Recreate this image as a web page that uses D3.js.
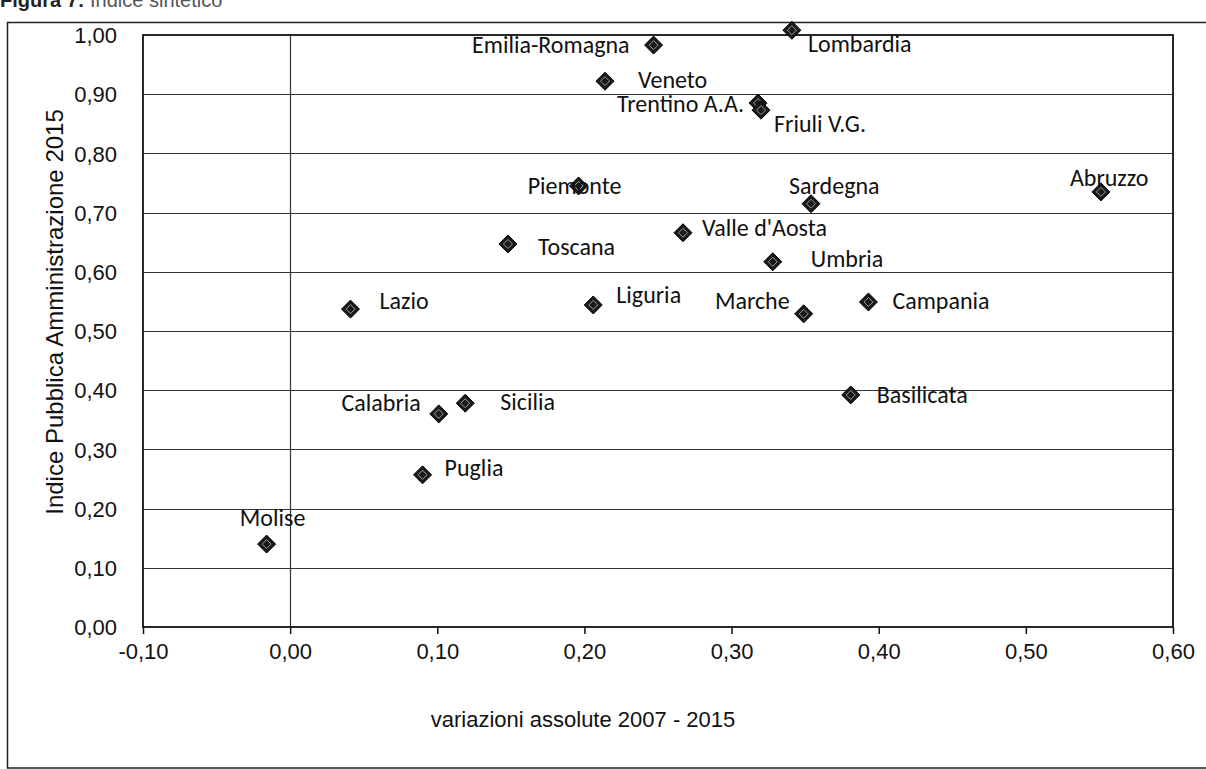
<!DOCTYPE html>
<html>
<head>
<meta charset="utf-8">
<script src="https://cdn.jsdelivr.net/npm/d3@7"></script>
<style>
  body { margin: 0; background: #fff; }
  svg { display: block; }
</style>
</head>
<body>
<svg width="1206" height="769"></svg>
<script>
// regioni, variazione assoluta 2007-2015 (x) e indice PA 2015 (y)
regions = ['Lombardia', 'Emilia-Romagna', 'Veneto', 'Trentino A.A.', 'Friuli V.G.', 'Piemonte', 'Sardegna',
           'Abruzzo', "Valle d'Aosta", 'Toscana', 'Umbria', 'Lazio', 'Liguria', 'Marche', 'Campania',
           'Basilicata', 'Sicilia', 'Calabria', 'Puglia', 'Molise']
variazione = [0.341, 0.247, 0.214, 0.318, 0.320, 0.196, 0.354, 0.551, 0.267, 0.148, 0.328, 0.041, 0.206,
              0.349, 0.393, 0.381, 0.119, 0.101, 0.090, -0.016]
indice = [1.008, 0.983, 0.922, 0.885, 0.873, 0.745, 0.715, 0.735, 0.666, 0.647, 0.617, 0.537, 0.544,
          0.529, 0.549, 0.392, 0.378, 0.360, 0.257, 0.140]

xTicks = [-0.1, 0, 0.1, 0.2, 0.3, 0.4, 0.5, 0.6]
yTicks = [0, 0.1, 0.2, 0.3, 0.4, 0.5, 0.6, 0.7, 0.8, 0.9, 1.0]

titleBold = 'Figura 7:'
titleRest = ' Indice sintetico'
xTitle = 'variazioni assolute 2007 - 2015'
yTitle = 'Indice Pubblica Amministrazione 2015'

// where each label sits relative to its marker: dx, dy (baseline), anchor
labelPos = [[16, 22, 'start'], [-24, 8, 'end'], [33, 7, 'start'], [-14, 9, 'end'], [13, 22, 'start'],
            [-4, 8, 'middle'], [-22, -10, 'start'], [-31, -6, 'start'], [19, 3, 'start'], [30, 11, 'start'],
            [38, 5, 'start'], [29, 0, 'start'], [23, -2, 'start'], [-14, -5, 'end'], [24, 7, 'start'],
            [26, 8, 'start'], [35, 7, 'start'], [-18, -3, 'end'], [22, 1, 'start'], [6, -18, 'middle']]

data = regions.map((r, i) => ({name: r, x: variazione[i], y: indice[i], pos: labelPos[i]}))

let svg = d3.select('svg')
let axisFont = "'Liberation Sans', Arial, sans-serif"
let labelFont = "Carlito, Calibri, Lato, sans-serif"

let it = d3.formatLocale({decimal: ',', thousands: '.', grouping: [3], currency: ['', '€'], minus: '-'})
let fmt = it.format('.2f')

let x = d3.scaleLinear().domain([-0.1, 0.6]).range([143, 1173])
let y = d3.scaleLinear().domain([0, 1]).range([627, 35])

// title strip (cut off by the scan)
let title = svg.append('text')
    .attr('x', 0).attr('y', 7)
    .style('font-family', axisFont).style('font-size', '20px')
    .style('fill', '#222')
title.append('tspan').style('font-weight', 'bold').text(titleBold)
title.append('tspan').style('fill', '#555').text(titleRest)

// outer frame
svg.append('rect')
    .attr('x', 7.5).attr('y', 22.5).attr('width', 1300).attr('height', 745.5)
    .style('fill', 'none').style('stroke', '#222').style('stroke-width', 1.5)

// gridlines
svg.append('g').selectAll('line').data(yTicks.filter(d => d > 0 && d < 1)).enter().append('line')
    .attr('x1', x(-0.1)).attr('x2', x(0.6))
    .attr('y1', d => Math.round(y(d)) + 0.5).attr('y2', d => Math.round(y(d)) + 0.5)
    .style('stroke', '#333').style('stroke-width', 1.2)

svg.append('line')
    .attr('x1', Math.round(x(0)) + 0.5).attr('x2', Math.round(x(0)) + 0.5)
    .attr('y1', y(1)).attr('y2', y(0))
    .style('stroke', '#333').style('stroke-width', 1.2)

// plot border
svg.append('rect')
    .attr('x', x(-0.1)).attr('y', y(1)).attr('width', x(0.6) - x(-0.1)).attr('height', y(0) - y(1))
    .style('fill', 'none').style('stroke', '#111').style('stroke-width', 1.8)

// x axis
let xAxis = svg.append('g').attr('transform', `translate(0,${y(0)})`)
    .call(d3.axisBottom(x).tickValues(xTicks).tickFormat(fmt).tickSize(7).tickPadding(9))
xAxis.select('.domain').remove()
xAxis.selectAll('line').style('stroke', '#111').style('stroke-width', 1.5)
xAxis.selectAll('text').style('font-family', axisFont).style('font-size', '22px').style('fill', '#111')

// y axis
let yAxis = svg.append('g').attr('transform', `translate(${x(-0.1)},0)`)
    .call(d3.axisLeft(y).tickValues(yTicks).tickFormat(fmt).tickSize(0).tickPadding(26))
yAxis.select('.domain').remove()
yAxis.selectAll('text').attr('dy', '0.35em').style('font-family', axisFont).style('font-size', '22px').style('fill', '#111')

// axis titles
svg.append('text')
    .attr('x', 583).attr('y', 727)
    .attr('text-anchor', 'middle')
    .style('font-family', axisFont).style('font-size', '22px').style('fill', '#111')
    .text(xTitle)

svg.append('text')
    .attr('transform', `translate(63,312) rotate(-90)`)
    .attr('text-anchor', 'middle')
    .style('font-family', axisFont).style('font-size', '24px').style('fill', '#111')
    .text(yTitle)

// points
let pts = svg.append('g').selectAll('g').data(data).enter().append('g')
    .attr('transform', d => `translate(${x(d.x)},${y(d.y)})`)

pts.append('path')
    .attr('d', 'M0,-9L9,0L0,9L-9,0Z')
    .style('fill', '#1a1a1a').style('stroke', '#000').style('stroke-width', 1)
pts.append('path')
    .attr('d', 'M0,-4.5L4.5,0L0,4.5L-4.5,0Z')
    .style('fill', 'none').style('stroke', '#999').style('stroke-width', 1)

// labels
svg.append('g').selectAll('text').data(data).enter().append('text')
    .attr('x', d => x(d.x) + d.pos[0])
    .attr('y', d => y(d.y) + d.pos[1])
    .attr('text-anchor', d => d.pos[2])
    .style('font-family', labelFont).style('font-size', '24px').style('fill', '#111')
    .text(d => d.name)
</script>
</body>
</html>
